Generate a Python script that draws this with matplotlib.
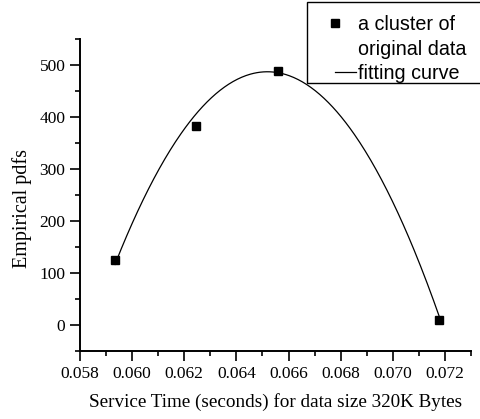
import numpy as np
import matplotlib
matplotlib.use('Agg')
import matplotlib.pyplot as plt
from matplotlib.lines import Line2D
from matplotlib.patches import Rectangle
from matplotlib.legend_handler import HandlerLine2D

# original data points
service_time = [0.05934, 0.06244, 0.06561, 0.07177]
empirical_pdf = [125.7, 382, 488, 9.7]

# fitted parabola (peak position, peak height, curvature)
fit_peak_x = 0.06519
fit_peak_y = 487
fit_curv = 1.083e7

x_ticks = [0.058, 0.060, 0.062, 0.064, 0.066, 0.068, 0.070, 0.072]
y_ticks = [0, 100, 200, 300, 400, 500]


class HalfLineHandler(HandlerLine2D):
    # line only on the right half of the handle box, like the original legend
    def get_xdata(self, legend, xdescent, ydescent, width, height, fontsize):
        x0 = -xdescent + 0.5 * width
        return [x0, -xdescent + width], [x0]


plt.rcParams['font.family'] = ['Liberation Serif', 'DejaVu Serif']

fig = plt.figure(figsize=(4.8, 4.19), dpi=100)
ax = fig.add_axes([80 / 480, 1 - 351 / 419, (471 - 80) / 480, (351 - 39) / 419])

xs = np.linspace(min(service_time), max(service_time), 300)
ax.plot(xs, fit_peak_y - fit_curv * (xs - fit_peak_x) ** 2, color='black', linewidth=0.9)
ax.plot(service_time, empirical_pdf, linestyle='none', marker='s',
        markersize=6.3, color='black')

ax.set_xlim(0.058, 0.073)
ax.set_ylim(-50, 550)
ax.set_xticks(x_ticks)
ax.set_xticklabels(['%.3f' % v for v in x_ticks])
ax.set_yticks(y_ticks)
ax.set_xticks(np.arange(0.059, 0.0731, 0.002), minor=True)
ax.set_yticks([-50, 50, 150, 250, 350, 450, 550], minor=True)

ax.spines['top'].set_visible(False)
ax.spines['right'].set_visible(False)
ax.spines['left'].set_linewidth(1.4)
ax.spines['bottom'].set_linewidth(1.4)
ax.tick_params(which='major', length=7, width=1.2, labelsize=12.5, direction='out')
ax.tick_params(which='minor', length=3.5, width=1.2, direction='out')

ax.set_xlabel('Service Time (seconds) for data size 320K Bytes', fontsize=13.8, labelpad=8)
ax.set_ylabel('Empirical pdfs', fontsize=14.5)
ax.yaxis.set_label_coords(-0.124, 0.458)

# legend box at the top right, running past the right edge of the figure
fig.patches.append(Rectangle((307 / 480, 1 - 83.5 / 419), 180 / 480, 81 / 419,
                             transform=fig.transFigure, facecolor='white',
                             edgecolor='black', linewidth=1.0, zorder=2))

line_handle = Line2D([], [], color='black', linewidth=0.9)
handles = [
    Line2D([], [], linestyle='none', marker='s', markersize=6, color='black'),
    Line2D([], [], linestyle='none'),
    line_handle,
]
labels = ['a cluster of', 'original data', 'fitting curve']
leg = fig.legend(handles, labels, loc='upper left',
                 bbox_to_anchor=(315 / 480, 1 - 15 / 419),
                 prop={'family': 'Liberation Sans', 'size': 14.2},
                 frameon=False, borderpad=0,
                 labelspacing=0.28, handlelength=2.06, handletextpad=0.1,
                 borderaxespad=0,
                 handler_map={line_handle: HalfLineHandler()})
leg.set_zorder(3)

plt.savefig('out.png', dpi=100)
